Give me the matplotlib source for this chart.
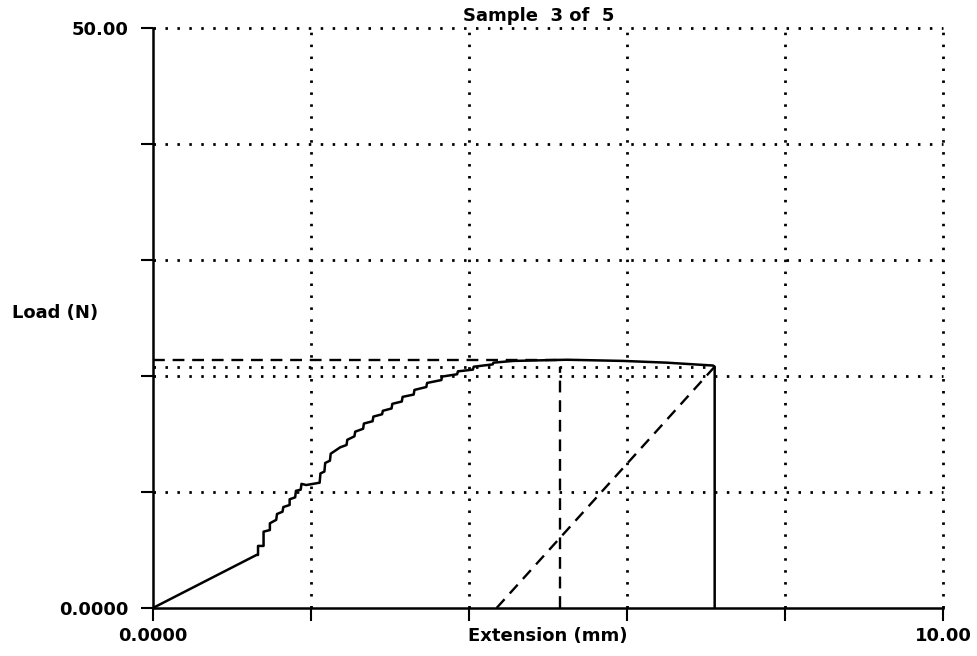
import matplotlib
matplotlib.use("Agg")
import matplotlib.pyplot as plt

# Load / extension trace of the test specimen
extension = [0.00, 1.31, 1.33, 1.33, 1.40, 1.40, 1.48, 1.48, 1.56, 1.57, 1.64, 1.65,
             1.73, 1.73, 1.80, 1.81, 1.87, 1.88, 1.94, 2.11, 2.12, 2.17, 2.18, 2.24,
             2.25, 2.37, 2.45, 2.46, 2.55, 2.56, 2.66, 2.67, 2.78, 2.79, 2.90, 2.91,
             3.02, 3.03, 3.15, 3.16, 3.30, 3.31, 3.46, 3.47, 3.65, 3.66, 3.85, 3.86,
             4.05, 4.06, 4.30, 4.31, 4.56, 5.24, 5.95, 6.50, 7.09, 7.11, 7.11]
load = [0.00, 4.57, 4.57, 5.35, 5.35, 6.58, 6.72, 7.30, 7.60, 8.10, 8.30, 8.70,
        8.88, 9.37, 9.54, 10.10, 10.20, 10.70, 10.60, 10.80, 11.60, 11.76, 12.50, 12.70,
        13.30, 13.85, 14.05, 14.50, 14.80, 15.20, 15.45, 15.90, 16.10, 16.50, 16.70, 17.00,
        17.20, 17.60, 17.80, 18.20, 18.40, 18.80, 19.05, 19.40, 19.65, 19.95, 20.15, 20.40,
        20.55, 20.80, 21.00, 21.15, 21.30, 21.40, 21.30, 21.15, 20.90, 20.80, 0.00]

# Derived results
max_load = 21.4
ext_at_max = 5.15
break_load = 20.8
break_ext = 7.11
offset_start = 4.35

x_ticks = [0, 2, 4, 6, 8, 10]
x_tick_labels = ["0.0000", "", "", "", "", "10.00"]
y_ticks = [0, 10, 20, 30, 40, 50]
y_tick_labels = ["0.0000", "", "", "", "", "50.00"]

plt.rcParams['font.family'] = ['DejaVu Sans']
plt.rcParams['font.weight'] = 'bold'

fig = plt.figure(figsize=(9.78, 6.56), dpi=100)
ax = fig.add_axes([0.1564, 0.0732, 0.8078, 0.8841])
ax.set_xlim(0, 10)
ax.set_ylim(0, 50)

dotted = (0, (0.9, 3.4))
dashed = (0, (5.0, 3.3))

# grid
for gx in x_ticks[1:]:
    ax.plot([gx, gx], [0, 50], color='black', lw=2.0, linestyle=dotted, zorder=1, clip_on=False)
for gy in y_ticks[1:]:
    ax.plot([0, 10], [gy, gy], color='black', lw=2.0, linestyle=dotted, zorder=1, clip_on=False)

# result markers
ax.plot([0, ext_at_max], [max_load, max_load], color='black', lw=1.7, linestyle=dashed, zorder=2)
ax.plot([0, break_ext], [break_load, break_load], color='black', lw=2.0, linestyle=dotted, zorder=2)
ax.plot([ext_at_max, ext_at_max], [0, break_load], color='black', lw=1.7, linestyle=dashed, zorder=2)
ax.plot([offset_start, break_ext], [0, break_load], color='black', lw=1.7, linestyle=dashed, zorder=2)

# curve
ax.plot(extension, load, color='black', lw=1.8, zorder=3)

for side in ('top', 'right'):
    ax.spines[side].set_visible(False)
for side in ('left', 'bottom'):
    ax.spines[side].set_linewidth(1.8)

ax.set_xticks(x_ticks)
ax.set_xticklabels(x_tick_labels)
ax.set_yticks(y_ticks)
ax.set_yticklabels(y_tick_labels)
ax.tick_params(axis='y', direction='out', length=8.5, width=1.5, pad=9, labelsize=13)
ax.tick_params(axis='x', direction='out', length=9.5, width=1.5, pad=4, labelsize=13)

ax.text(0.5, -0.032, "Extension (mm)", transform=ax.transAxes, ha='center', va='top',
        fontsize=13, fontweight='bold')
fig.text(0.012, 0.523, "Load (N)", ha='left', va='center', fontsize=13, fontweight='bold')
ax.text(0.488, 1.006, "Sample  3 of  5", transform=ax.transAxes, ha='center', va='bottom',
        fontsize=13, fontweight='bold')

fig.savefig("out.png", dpi=100)
